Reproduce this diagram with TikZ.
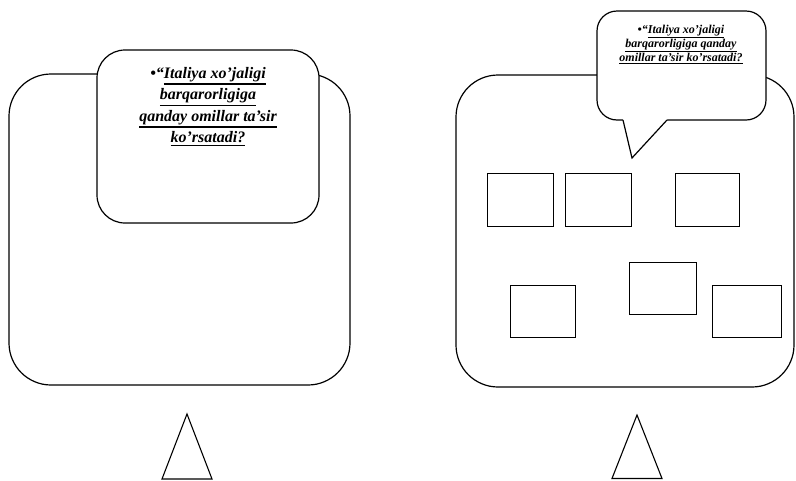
\documentclass[tikz,border=0pt]{standalone}
\usepackage{fontspec}
\setmainfont{Liberation Serif}
\newcommand\myul[1]{\leavevmode\vtop{\hbox{#1}\kern0.1em\hrule height 0.07em}}
\begin{document}
\begin{tikzpicture}[x=1pt,y=-1pt,
  line width=1.2pt,
  bigbox/.style={draw=black, rectangle, rounded corners=42pt, inner sep=0pt},
  callout/.style={draw=black, fill=white, rectangle, inner sep=0pt},
  smallbox/.style={draw=black, line width=1pt, rectangle, inner sep=0pt, minimum width=66pt, minimum height=53pt},
  qtext/.style={align=center, inner sep=0pt, font=\bfseries\itshape}
]
\useasboundingbox (0,0) rectangle (796,480);
% left big box
\node[bigbox, minimum width=341pt, minimum height=311pt] (lbox) at (179.5,229.5) {};
% left callout
\node[callout, rounded corners=28pt, minimum width=222pt, minimum height=173pt] (lcall) at (208,136.5) {};
\node[qtext, font=\fontsize{16}{21.5}\selectfont\bfseries\itshape] (ltext) at (208,106.5)
  {•“\myul{Italiya xo’jaligi}\\ \myul{barqarorligiga}\\ \myul{qanday omillar ta’sir}\\ \myul{ko’rsatadi?}};
% right big box
\node[bigbox, minimum width=338pt, minimum height=312pt] (rbox) at (625,231) {};
% right callout
\node[callout, rounded corners=20pt, minimum width=169pt, minimum height=109pt] (rcall) at (681.5,65.5) {};
\coordinate (t1) at (623,120);
\coordinate (t2) at (632,158);
\coordinate (t3) at (667,120);
\fill[white] ([yshift=3pt]t1) -- (t1) -- (t2) -- (t3) -- ([yshift=3pt]t3) -- cycle;
\draw[line join=miter] (t1) -- (t2) -- (t3);
\node[qtext, font=\fontsize{12}{14}\selectfont\bfseries\itshape] (rtext) at (681,44.5)
  {•“\myul{Italiya xo’jaligi}\\ \myul{barqarorligiga qanday}\\ \myul{omillar ta’sir ko’rsatadi?}};
% small boxes
\node[smallbox] (b1) at (520,199.5) {};
\node[smallbox] (b2) at (598,199.5) {};
\node[smallbox, minimum width=64pt] (b3) at (707,199.5) {};
\node[smallbox, minimum width=65pt, minimum height=52pt] (b4) at (542.5,311) {};
\node[smallbox, minimum width=67pt, minimum height=52pt] (b5) at (662.5,288) {};
\node[smallbox, minimum width=69pt, minimum height=52pt] (b6) at (746.5,311) {};
% triangles
\draw[line width=1.1pt] (187,414) -- (212,479) -- (162,479) -- cycle;
\draw[line width=1.1pt] (637,415) -- (662,478.5) -- (612,478.5) -- cycle;
\end{tikzpicture}
\end{document}
